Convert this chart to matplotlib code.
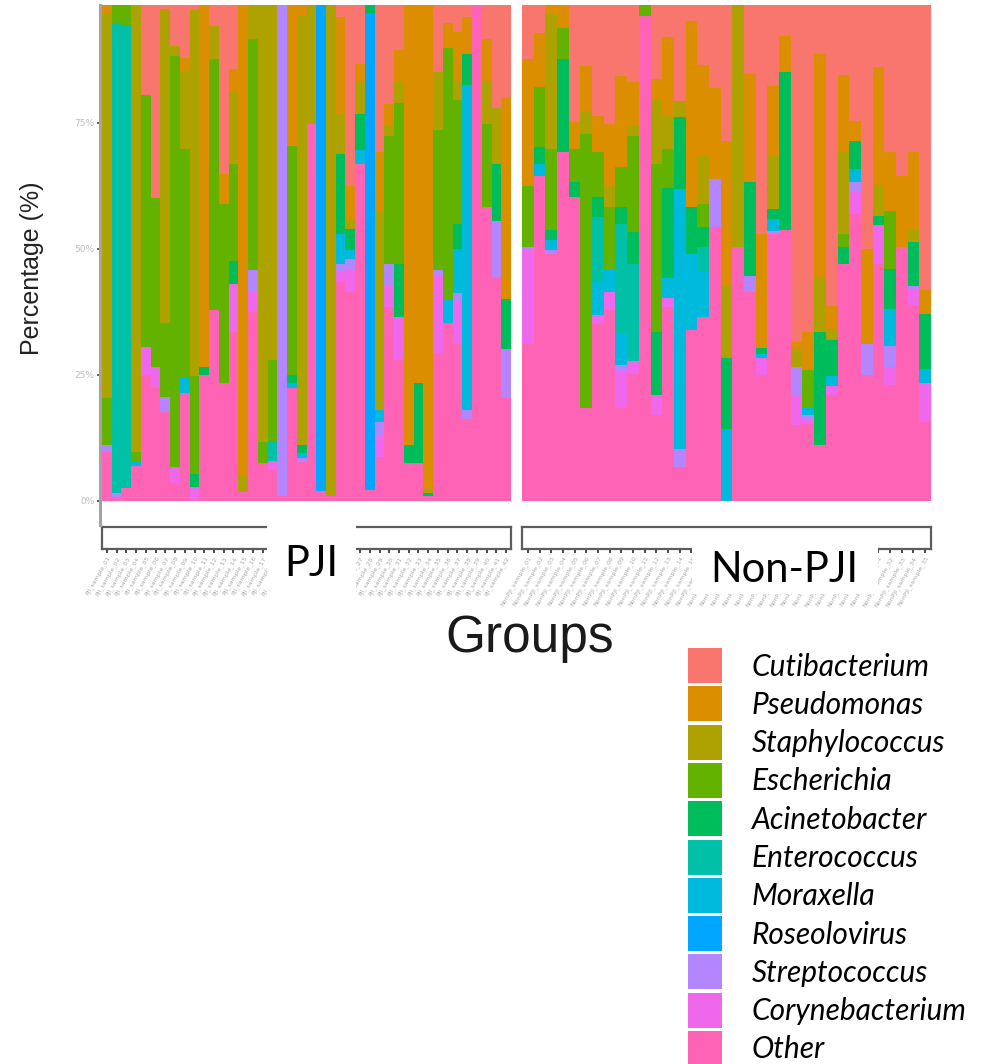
import numpy as np
import matplotlib
matplotlib.use("Agg")
import matplotlib.pyplot as plt
from matplotlib.patches import Rectangle
from matplotlib.lines import Line2D

W, H = 999, 1064

# ---------------------------------------------------------------------
# Data (relative abundance, %), one list per genus, bars left to right
# ---------------------------------------------------------------------
genera = ["Cutibacterium", "Pseudomonas", "Staphylococcus", "Escherichia",
          "Acinetobacter", "Enterococcus", "Moraxella", "Roseolovirus",
          "Streptococcus", "Corynebacterium", "Other"]
colors = ["#F8766D", "#DB8E00", "#AEA200", "#64B200", "#00BD5C", "#00C1A7",
          "#00BADE", "#00A6FF", "#B385FF", "#EF67EB", "#FF63B6"]

# PJI group (42 samples)
pji_cuti = [0, 0, 0, 0, 19.4, 40.0, 2.4, 9.7, 12.2, 2.6, 0, 5.8, 35.2, 14.4, 0, 0, 0, 0, 0, 0,
            0, 0, 0, 0, 4.0, 37.5, 13.4, 0, 30.9, 21.3, 10.6, 0, 0, 0, 15.0, 5.1, 6.9, 4.0, 0, 8.4,
            22.0, 20.0]
pji_pseudo = [3.1, 0, 0, 0, 0, 0, 0, 0, 2.8, 0, 73.5, 0, 6.0, 4.3, 95.4, 0, 0, 0, 0, 29.6,
              3.8, 0, 0, 0, 19.3, 6.6, 3.3, 0, 11.6, 4.3, 6.3, 89.1, 76.9, 98.0, 0, 5.0, 10.1, 7.4, 0, 8.3,
              0, 40.0]
pji_staph = [76.7, 0, 0, 90.4, 0, 0, 62.5, 2.0, 15.2, 72.6, 0, 6.6, 0, 14.6, 3.2, 8.4, 88.4, 72.2, 0, 0,
             85.3, 25.3, 0, 99.1, 7.9, 2.0, 6.6, 0, 39.7, 2.0, 4.3, 0, 0, 0.7, 11.4, 0, 3.6, 0, 0, 8.6,
             11.2, 0]
pji_esch = [9.3, 5.1, 5.6, 2.0, 50.1, 33.5, 14.6, 81.7, 45.6, 19.5, 0, 49.9, 35.6, 19.2, 0, 45.8, 4.3, 16.2, 0, 45.6,
            0, 0, 0, 0, 0, 0, 0, 0, 0, 25.5, 31.9, 0, 0, 0, 27.9, 49.9, 24.5, 0, 0, 16.5,
            0, 0]
pji_acin = [0, 0, 0, 0, 0, 0, 0, 0, 0, 2.6, 1.7, 0, 0, 4.6, 0, 0, 0, 0, 0, 1.7,
            1.7, 0, 0, 0, 15.9, 4.3, 7.1, 3.1, 0, 0, 10.6, 3.6, 15.9, 0.7, 0, 0, 5.0, 6.1, 0, 0,
            11.2, 9.9]
pji_entero = [0, 93.5, 92.1, 0, 0, 0, 0, 0, 0, 0, 0, 0, 0, 0, 0, 0, 0, 4.0, 0, 0,
              0, 0, 0, 0, 0, 0, 0, 0, 0, 0, 0, 0, 0, 0, 0, 0, 0, 0, 0, 0,
              0, 0]
pji_morax = [0, 0, 0, 0.9, 0, 0, 0, 0, 3.0, 0, 0, 0, 0, 0, 0, 0, 0, 0, 0, 1.0,
             1.0, 0, 0, 0, 6.0, 1.7, 2.8, 0, 2.3, 0, 0, 0, 0, 0, 0, 4.8, 8.8, 64.7, 0, 0,
             0, 0]
pji_roseo = [0, 0, 0, 0, 0, 0, 0, 0, 0, 0, 0, 0, 0, 0, 0, 0, 0, 0, 0, 0,
             0, 0, 98.0, 0, 0, 0, 0, 94.9, 0, 0, 0, 0, 0, 0, 0, 0, 0, 0, 0, 0,
             0, 0]
pji_strep = [1.3, 0.9, 0, 0, 0, 0, 3.0, 0, 0, 0, 0, 0, 0, 0, 0, 4.4, 0, 0, 99.0, 0,
             0.7, 0, 0, 0, 1.7, 2.2, 0, 0, 2.6, 4.3, 0, 0, 0, 0, 1.2, 0, 1.8, 1.7, 0, 0,
             11.2, 9.9]
pji_coryne = [0, 0, 0, 0, 5.6, 4.3, 0, 3.3, 0, 2.6, 0, 0, 0, 9.6, 0, 4.0, 0, 1.7, 0, 0,
              0, 0, 0, 0, 2.0, 4.4, 0, 0, 4.3, 4.3, 8.5, 0, 0, 0, 15.3, 0, 8.3, 0, 0, 0,
              0, 0]
pji_other = [9.8, 0.7, 2.5, 6.9, 25.0, 22.4, 17.7, 3.5, 21.4, 0.1, 25.0, 37.9, 23.5, 33.6, 1.7, 37.6, 7.5, 6.2, 1.0, 22.4,
             7.8, 74.9, 2.0, 0.9, 43.5, 41.5, 67.0, 2.2, 8.8, 38.6, 28.1, 7.5, 7.5, 0.9, 29.3, 35.4, 31.3, 16.4, 100, 58.4,
             44.5, 20.4]

# Non-PJI group (35 samples)
non_cuti = [12.4, 7.1, 0, 0, 24.9, 13.7, 23.6, 25.3, 15.7, 17.0, 0, 16.3, 7.9, 20.6, 4.8, 13.5, 18.1, 28.6, 0, 15.3,
            47.1, 17.7, 7.7, 68.6, 66.6, 11.4, 61.3, 15.5, 24.6, 50.1, 14.0, 30.9, 35.5, 30.9, 58.2]
non_pseudo = [25.1, 10.9, 3.4, 6.1, 5.3, 8.9, 7.3, 12.2, 18.2, 8.6, 0, 4.3, 15.7, 0, 37.0, 18.1, 18.1, 28.8, 0, 21.5,
              22.6, 13.9, 7.3, 1.3, 7.6, 44.2, 4.6, 15.4, 4.0, 18.8, 23.5, 11.6, 14.2, 15.5, 4.8]
non_staph = [0, 0, 26.8, 0, 0, 4.6, 0, 4.3, 0, 2.0, 0, 12.6, 6.6, 3.3, 0, 9.6, 0, 14.2, 49.7, 0,
             0, 10.6, 0, 3.6, 0, 11.0, 2.3, 16.2, 0, 0, 6.0, 0, 0, 2.3, 0]
non_esch = [12.2, 11.9, 16.2, 6.3, 6.6, 54.6, 8.9, 12.4, 7.9, 19.2, 3.8, 33.4, 7.9, 0, 0, 4.6, 0, 0, 0, 0,
            0, 0, 0, 0, 7.3, 0, 0, 2.6, 0, 0, 0, 11.6, 0, 0, 0]
non_acin = [0, 3.3, 2.0, 18.5, 3.0, 0, 4.0, 0, 3.3, 6.3, 0, 12.6, 17.9, 14.2, 9.3, 4.0, 0, 14.2, 0, 18.7,
            1.2, 2.0, 31.3, 0, 0, 22.5, 7.1, 3.3, 5.6, 0, 1.8, 7.9, 0, 8.8, 10.9]
non_entero = [0, 0, 0, 0, 0, 0, 12.9, 0, 21.8, 19.2, 0, 0, 0, 0, 0, 5.0, 0, 0, 0, 0,
              0, 0, 0, 0, 0, 0, 0, 0, 0, 0, 0, 0, 0, 0, 0]
non_morax = [0, 2.3, 2.0, 0, 0, 0, 6.6, 4.4, 6.3, 0, 0, 0, 4.0, 51.6, 15.2, 8.9, 0, 14.2, 0, 0,
             0.8, 2.3, 0, 0, 1.7, 0, 2.0, 0, 2.6, 0, 0, 7.3, 0, 0, 2.8]
non_roseo = [0] * 35
non_strep = [0.7, 0, 0.7, 0, 0, 0, 0, 0, 1.3, 0, 0, 0, 0, 3.6, 0, 0, 9.6, 0, 0, 3.1,
             0, 0.7, 0, 5.6, 0.9, 0, 0, 0, 2.0, 6.3, 0, 4.3, 0, 0.7, 0]
non_coryne = [18.5, 0, 0, 0, 0, 0, 1.7, 3.6, 7.3, 2.6, 0, 4.0, 1.7, 0, 0, 0, 0, 0, 0, 0,
              3.5, 0, 0, 6.0, 0.8, 0, 1.8, 0, 4.3, 0, 7.8, 3.6, 0, 3.1, 7.7]
non_other = [31.3, 64.7, 49.1, 69.3, 60.4, 18.4, 35.3, 37.9, 18.4, 25.3, 96.4, 17.1, 38.6, 6.8, 33.9, 36.6, 54.4, 0, 50.5, 41.5,
             25.0, 53.1, 53.9, 15.1, 15.4, 11.1, 21.0, 47.2, 57.1, 25.0, 47.2, 23.0, 50.5, 38.9, 15.7]

pji_values = [pji_cuti, pji_pseudo, pji_staph, pji_esch, pji_acin, pji_entero,
              pji_morax, pji_roseo, pji_strep, pji_coryne, pji_other]
non_values = [non_cuti, non_pseudo, non_staph, non_esch, non_acin, non_entero,
              non_morax, non_roseo, non_strep, non_coryne, non_other]

pji_samples = ["PJI_sample_%02d" % (i + 1) for i in range(len(pji_other))]
non_samples = ["NonPJI_sample_%02d" % (i + 1) for i in range(len(non_other))]

y_ticks = [0, 0.25, 0.5, 0.75]
y_ticklabels = ["0%", "25%", "50%", "75%"]


def fig_rect(x0, y0, x1, y1):
    """Pixel box (top-left origin) -> figure fraction [left, bottom, w, h]."""
    return [x0 / W, 1 - y1 / H, (x1 - x0) / W, (y1 - y0) / H]


def draw_panel(ax, values):
    vals = np.array(values, dtype=float)
    vals = vals / vals.sum(axis=0)
    n = vals.shape[1]
    x = np.arange(n)
    bottom = np.zeros(n)
    # ggplot stacks the first level on top -> draw from the last one up
    for k in range(len(genera) - 1, -1, -1):
        ax.bar(x, vals[k], bottom=bottom, width=1.0, color=colors[k],
               linewidth=0, antialiased=False)
        bottom += vals[k]
    ax.set_xlim(-0.5, n - 0.5)
    ax.set_ylim(-0.004, 0.984)
    for s in ax.spines.values():
        s.set_visible(False)
    ax.set_xticks([])
    return n


def draw_strip(rect, n, labels):
    s = fig.add_axes(rect)
    s.set_xlim(-0.5, n - 0.5)
    s.set_ylim(0, 1)
    s.set_yticks([])
    s.set_xticks(np.arange(n))
    s.set_xticklabels(labels, rotation=60, ha="right", rotation_mode="anchor")
    s.tick_params(axis="x", length=3, width=1.4, color="#4a4a4a",
                  labelsize=4.5, labelcolor="#a9a9a9", pad=1.5)
    for sp in s.spines.values():
        sp.set_color("#5c5c5c")
        sp.set_linewidth(1.6)
    return s


fig = plt.figure(figsize=(W / 100, H / 100), dpi=100)

ax1 = fig.add_axes(fig_rect(102, 5, 511, 503))
n1 = draw_panel(ax1, pji_values)
ax1.set_yticks(y_ticks)
ax1.set_yticklabels(y_ticklabels)
ax1.tick_params(axis="y", length=3.5, width=1.3, color="#555555",
                labelsize=6.5, labelcolor="#bdbdbd", pad=2)

ax2 = fig.add_axes(fig_rect(522, 5, 931, 503))
n2 = draw_panel(ax2, non_values)
ax2.set_yticks([])

# y axis line (runs down past the panel to the strip)
fig.add_artist(Line2D([100 / W, 100 / W], [1 - 5 / H, 1 - 525 / H],
                      color="#a3a3a3", lw=2.2))

draw_strip(fig_rect(102, 527, 511, 549), n1, pji_samples)
draw_strip(fig_rect(522, 527, 931, 549), n2, non_samples)

# white boxes carrying the group names
fig.add_artist(Rectangle((267 / W, 1 - 597 / H), 89 / W, 82 / H,
                         transform=fig.transFigure, facecolor="white",
                         edgecolor="none", zorder=5))
fig.add_artist(Rectangle((692 / W, 1 - 594 / H), 186 / W, 65 / H,
                         transform=fig.transFigure, facecolor="white",
                         edgecolor="none", zorder=5))
fig.text(311 / W, 1 - 576 / H, "PJI", ha="center", va="baseline",
         fontsize=30, family="Lato", color="black", zorder=6)
fig.text(784 / W, 1 - 582 / H, "Non-PJI", ha="center", va="baseline",
         fontsize=30, family="Lato", color="black", zorder=6)

fig.text(32 / W, 1 - 268 / H, "Percentage (%)", rotation=90, ha="center",
         va="center", fontsize=18, family="Liberation Sans", color="#222222")
fig.text(530 / W, 1 - 652 / H, "Groups", ha="center", va="baseline",
         fontsize=37, family="Liberation Sans", color="#1a1a1a")

# legend
for i, (name, col) in enumerate(zip(genera, colors)):
    top = 648 + 38.3 * i
    fig.add_artist(Rectangle((688 / W, 1 - (top + 35) / H), 34 / W, 35 / H,
                             transform=fig.transFigure, facecolor=col,
                             edgecolor="none"))
    fig.text(752 / W, 1 - (top + 27.5) / H, name, ha="left", va="baseline",
             fontsize=21.5, family="Lato", style="italic", color="black")

fig.savefig("out.png", dpi=100)
